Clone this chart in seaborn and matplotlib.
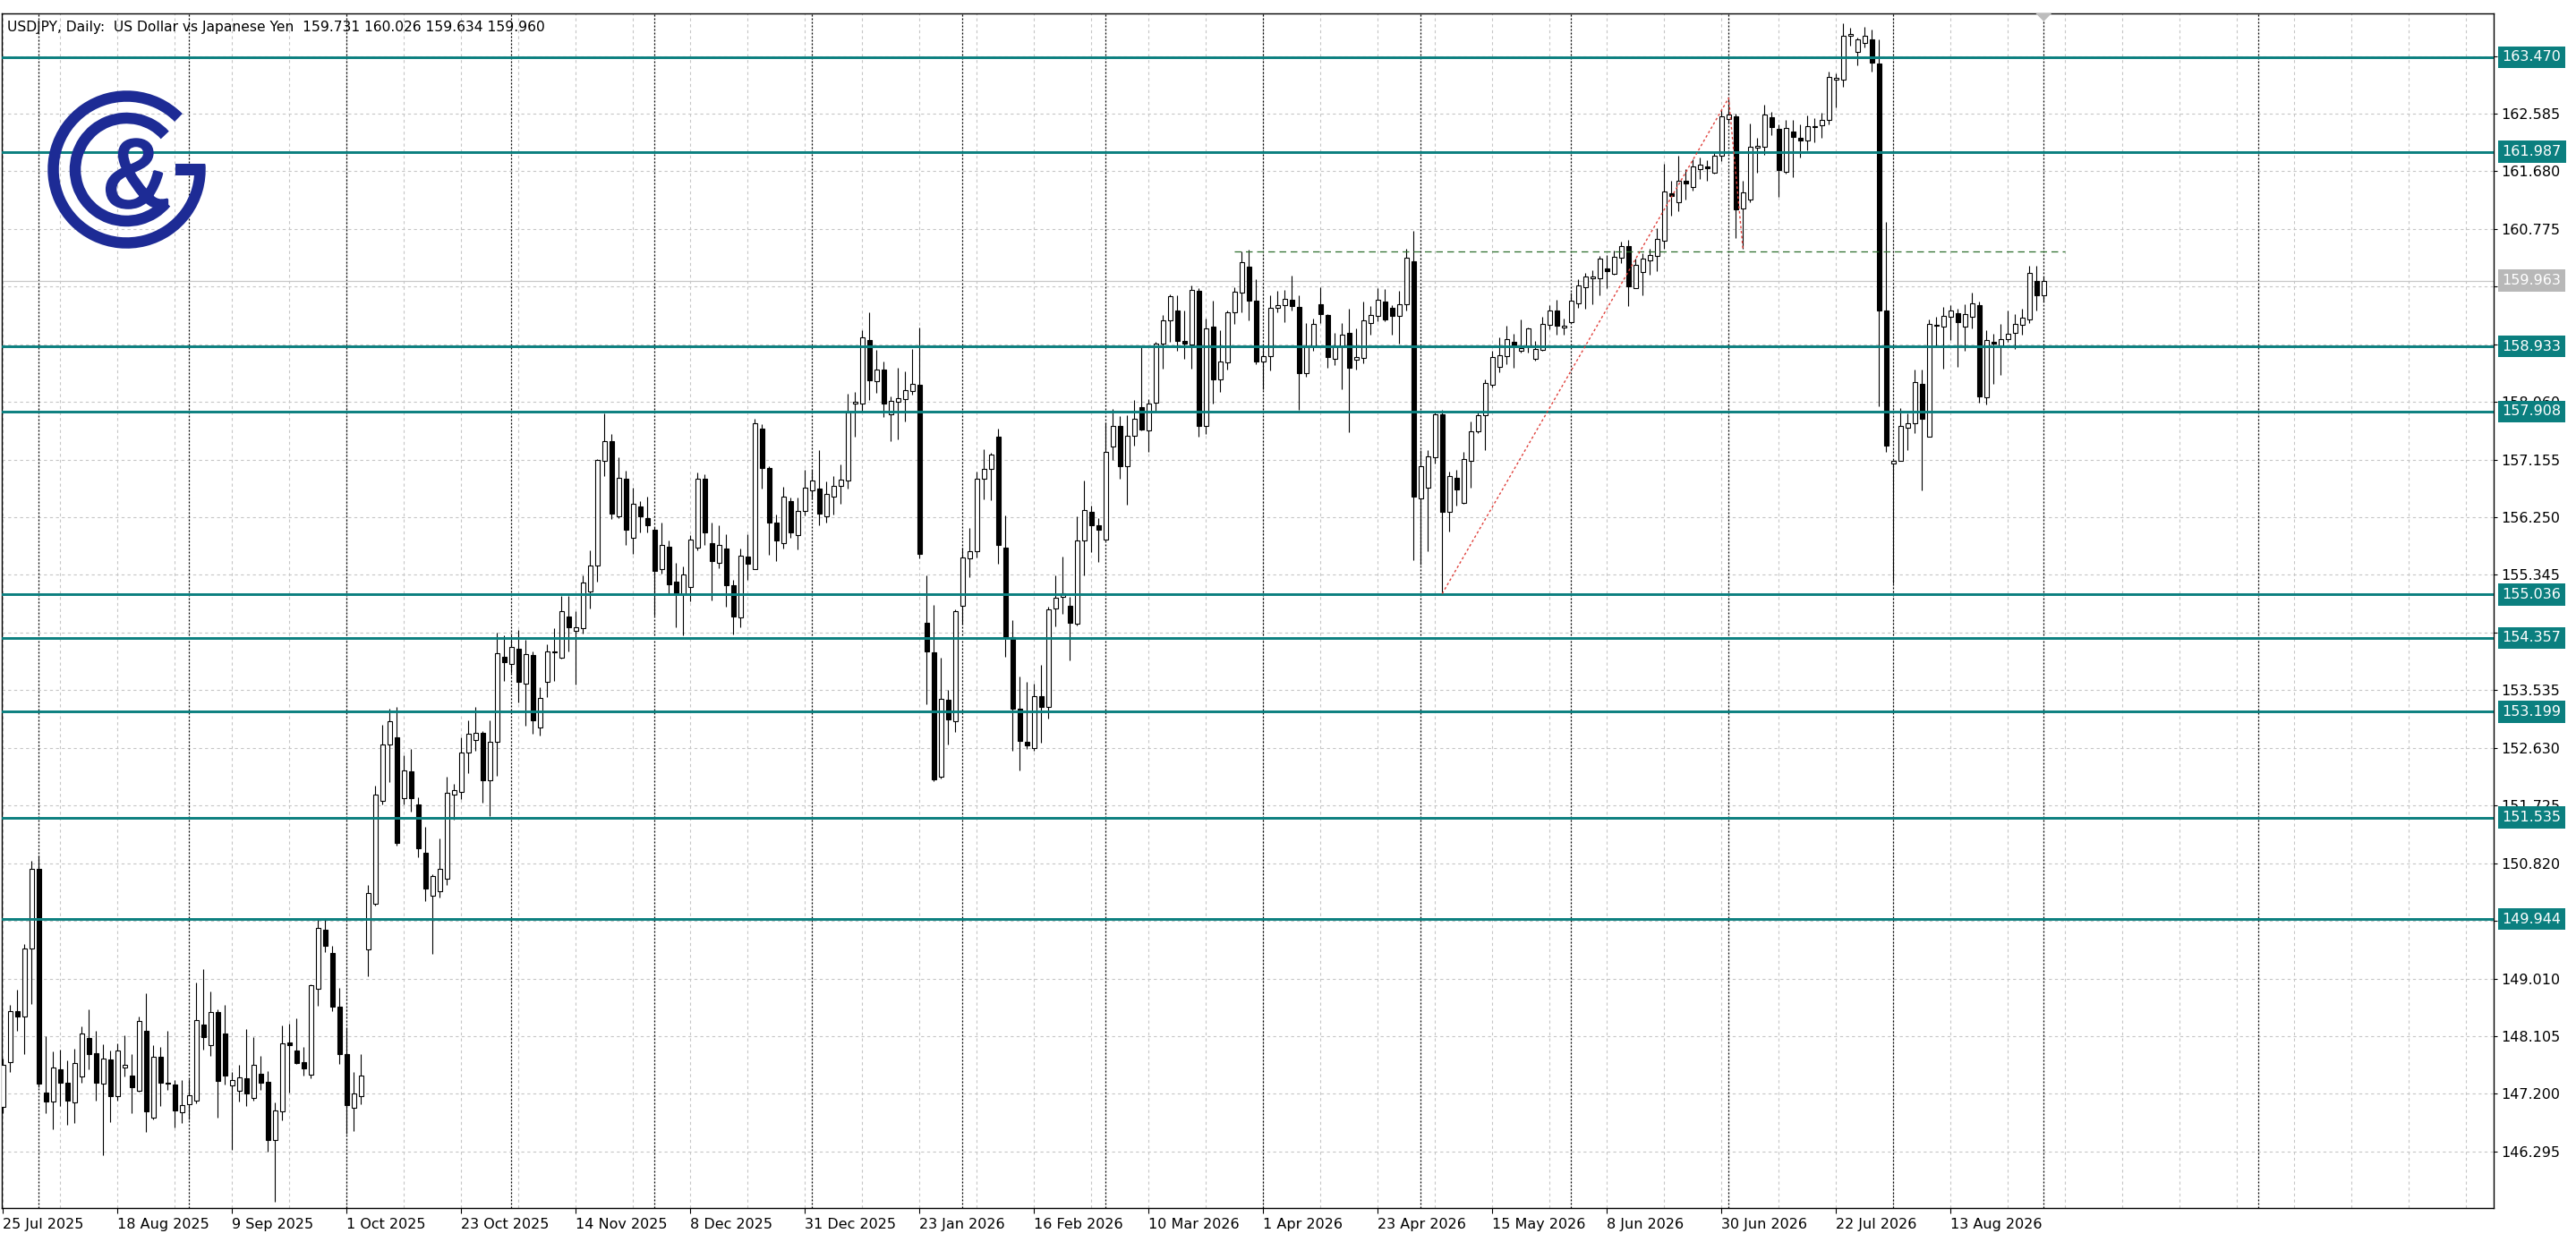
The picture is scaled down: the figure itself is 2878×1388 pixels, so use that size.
import numpy as np
import pandas as pd
import matplotlib
matplotlib.use("Agg")
import matplotlib.pyplot as plt
import seaborn as sns
from matplotlib.patches import Rectangle, Arc, Polygon
from matplotlib.transforms import blended_transform_factory
import matplotlib.patheffects as pe

# ---------------- data ----------------
symbol_title = "USDJPY, Daily:  US Dollar vs Japanese Yen"
first_date = "2025-07-25"
holidays = ["2025-12-25", "2026-01-01"]

opens = [
    147.00, 147.70, 148.50, 148.41, 149.48, 150.73, 147.22, 147.08, 147.58, 147.37,
    147.06, 147.47, 148.08, 147.84, 147.36, 147.74, 147.16, 147.61, 147.49, 147.25,
    148.19, 146.83, 147.78, 147.37, 147.35, 146.91, 147.04, 147.09, 148.29, 147.97,
    148.48, 148.15, 147.33, 147.25, 147.44, 147.13, 147.51, 147.39, 146.48, 146.92,
    148.00, 147.88, 147.70, 147.50, 148.85, 149.77, 149.41, 148.57, 147.83, 146.98,
    147.17, 149.46, 150.19, 151.80, 152.68, 152.79, 151.84, 152.26, 151.74, 150.98,
    150.31, 150.38, 150.58, 151.89, 151.94, 152.55, 152.75, 152.87, 152.12, 152.72,
    154.06, 153.95, 154.19, 153.64, 154.09, 152.95, 153.66, 154.13, 154.05, 154.69,
    154.47, 154.51, 155.08, 155.49, 157.14, 157.45, 156.27, 156.86, 155.93, 156.42,
    156.24, 156.05, 155.43, 155.79, 155.24, 155.04, 155.16, 155.77, 156.85, 155.85,
    155.53, 155.76, 155.19, 154.68, 155.63, 155.44, 157.64, 157.03, 156.16, 155.85,
    156.50, 155.97, 156.35, 156.67, 156.70, 156.27, 156.58, 156.74, 156.82, 158.04,
    158.04, 159.03, 158.38, 158.57, 157.87, 158.06, 158.10, 158.23, 158.33, 154.60,
    154.13, 152.18, 153.39, 153.05, 154.86, 155.61, 155.72, 156.86, 157.01, 157.51,
    155.77, 154.37, 153.24, 152.72, 152.63, 153.44, 153.27, 154.82, 155.00, 154.86,
    154.58, 155.88, 156.34, 156.13, 155.90, 157.36, 157.69, 157.05, 157.53, 157.98,
    157.62, 158.05, 158.97, 159.34, 159.50, 159.02, 158.96, 159.80, 157.69, 159.24,
    158.42, 158.68, 159.46, 159.78, 160.18, 159.65, 158.70, 158.78, 159.54, 159.58,
    159.66, 159.55, 158.51, 158.94, 159.59, 159.43, 158.73, 158.93, 159.14, 158.72,
    158.75, 159.30, 159.41, 159.63, 159.54, 159.41, 159.60, 160.27, 156.54, 156.71,
    157.19, 157.86, 156.33, 156.87, 156.47, 157.14, 157.60, 157.85, 158.33, 158.61,
    158.78, 159.01, 158.87, 158.93, 158.74, 158.88, 159.27, 159.49, 159.23, 159.31,
    159.61, 159.86, 160.00, 160.00, 160.16, 160.07, 160.33, 160.51, 159.85, 160.10,
    160.28, 160.35, 160.59, 161.34, 161.19, 161.53, 161.44, 161.71, 161.76, 161.66,
    161.92, 162.50, 162.54, 161.09, 161.24, 162.05, 162.07, 162.53, 162.35, 161.67,
    162.30, 162.21, 162.16, 162.38, 162.40, 162.48, 163.12, 163.12, 163.81, 163.55,
    163.70, 163.75, 163.37, 159.50, 157.10, 157.14, 157.66, 157.72, 158.34, 157.52,
    159.25, 159.24, 159.39, 159.45, 159.24, 159.39, 159.58, 158.13, 159.00, 158.95,
    159.04, 159.14, 159.27, 159.35, 159.96, 159.731,
]
highs = [
    147.75, 148.59, 148.83, 149.55, 150.86, 150.94, 148.11, 147.86, 147.89, 147.73,
    147.91, 148.26, 148.53, 148.19, 147.98, 147.88, 147.99, 148.12, 147.83, 148.41,
    148.78, 147.96, 147.93, 148.19, 147.42, 147.42, 147.43, 148.95, 149.16, 148.80,
    148.53, 148.59, 147.54, 147.65, 148.22, 148.09, 147.80, 147.56, 147.07, 148.28,
    148.30, 148.39, 147.94, 148.92, 149.94, 149.94, 149.53, 148.86, 148.23, 147.54,
    147.83, 150.48, 152.04, 152.99, 153.24, 153.28, 152.51, 152.61, 151.86, 151.39,
    150.64, 151.21, 152.18, 152.06, 152.79, 153.06, 153.27, 152.90, 153.06, 154.44,
    154.40, 154.40, 154.48, 154.33, 154.14, 153.58, 154.25, 154.51, 155.02, 155.02,
    154.78, 155.34, 155.73, 157.17, 157.88, 157.55, 157.19, 156.98, 156.72, 156.50,
    156.57, 156.09, 156.16, 155.89, 155.53, 155.48, 155.97, 156.95, 156.93, 156.16,
    156.13, 155.98, 155.27, 155.76, 155.98, 157.79, 157.71, 157.05, 156.29, 156.73,
    156.56, 156.56, 156.99, 156.99, 157.30, 156.81, 156.89, 157.08, 158.19, 158.22,
    159.18, 159.46, 158.88, 158.70, 158.15, 158.59, 158.54, 158.89, 159.23, 155.34,
    154.88, 154.05, 153.54, 154.80, 155.78, 156.08, 156.97, 157.32, 157.26, 157.64,
    156.28, 154.64, 153.75, 153.66, 153.64, 153.93, 154.85, 155.34, 155.63, 155.00,
    156.27, 156.82, 156.43, 156.23, 157.74, 157.95, 157.84, 157.85, 158.09, 158.92,
    158.11, 159.00, 159.43, 159.75, 159.74, 159.50, 159.89, 159.85, 159.37, 159.65,
    159.19, 159.49, 159.86, 160.42, 160.45, 159.98, 158.95, 159.73, 159.80, 159.82,
    160.04, 159.73, 159.30, 159.37, 159.86, 159.44, 159.15, 159.30, 159.52, 159.21,
    159.63, 159.56, 159.84, 159.83, 159.58, 159.80, 160.47, 160.74, 157.30, 157.31,
    157.90, 157.94, 156.96, 157.00, 157.28, 157.75, 157.89, 158.41, 158.86, 159.07,
    159.25, 159.13, 159.36, 159.23, 159.02, 159.39, 159.58, 159.66, 159.37, 159.77,
    159.99, 160.08, 160.13, 160.35, 160.37, 160.44, 160.58, 160.61, 160.31, 160.39,
    160.47, 160.79, 161.80, 161.53, 161.92, 161.72, 161.87, 161.89, 161.85, 161.98,
    162.65, 162.83, 162.59, 161.53, 162.43, 162.21, 162.72, 162.61, 162.42, 162.48,
    162.48, 162.42, 162.55, 162.51, 162.60, 163.24, 163.21, 164.00, 163.94, 163.78,
    163.95, 163.90, 163.75, 160.88, 157.15, 157.96, 157.88, 158.57, 158.57, 159.35,
    159.39, 159.55, 159.58, 159.53, 159.59, 159.78, 159.64, 159.18, 159.13, 159.29,
    159.49, 159.44, 159.52, 160.20, 160.20, 160.026,
]
lows = [
    146.90, 147.54, 148.19, 147.82, 148.61, 147.30, 146.89, 146.64, 147.01, 146.71,
    146.74, 147.37, 147.58, 147.10, 146.23, 146.76, 147.09, 147.47, 146.89, 147.23,
    146.60, 146.80, 147.01, 147.26, 146.67, 146.74, 146.80, 147.05, 147.90, 147.80,
    146.83, 147.35, 146.32, 147.08, 147.01, 147.10, 147.26, 146.29, 145.50, 146.79,
    147.22, 147.67, 147.48, 147.45, 148.58, 149.42, 148.50, 147.67, 146.58, 146.62,
    147.04, 149.05, 150.15, 151.74, 152.10, 151.10, 151.74, 151.63, 150.92, 150.22,
    149.40, 150.28, 150.48, 151.51, 151.82, 152.24, 152.59, 151.77, 151.56, 152.19,
    153.68, 153.80, 153.35, 152.98, 152.85, 152.83, 153.43, 153.68, 154.03, 154.14,
    153.62, 154.43, 154.82, 155.24, 156.90, 156.22, 156.24, 155.82, 155.67, 156.01,
    156.01, 154.70, 155.37, 155.06, 154.52, 154.39, 154.93, 155.73, 155.82, 154.95,
    155.45, 154.84, 154.41, 154.52, 155.27, 155.43, 156.70, 155.66, 155.56, 155.76,
    155.93, 155.75, 156.28, 156.53, 156.13, 156.17, 156.29, 156.46, 156.70, 157.52,
    157.91, 158.09, 158.20, 157.83, 157.44, 157.47, 157.76, 158.18, 155.61, 153.31,
    152.11, 152.15, 152.69, 152.88, 154.57, 155.31, 155.62, 156.53, 156.52, 155.52,
    154.06, 152.58, 152.28, 152.62, 152.58, 152.71, 153.09, 154.54, 154.73, 154.01,
    154.55, 155.34, 155.70, 155.55, 155.88, 157.15, 156.85, 156.45, 157.37, 157.62,
    157.28, 157.90, 158.58, 159.01, 158.86, 158.73, 158.58, 157.52, 157.56, 158.04,
    158.22, 158.57, 159.28, 159.46, 159.34, 158.65, 158.26, 158.55, 159.46, 159.31,
    159.49, 157.93, 158.46, 158.86, 159.30, 158.60, 158.64, 158.26, 157.59, 158.57,
    158.66, 159.12, 159.32, 159.32, 159.11, 158.97, 159.50, 155.57, 155.51, 155.72,
    157.10, 155.05, 156.03, 156.44, 156.46, 156.72, 157.57, 157.30, 158.29, 158.53,
    158.65, 158.60, 158.84, 158.84, 158.71, 158.86, 159.20, 159.11, 159.11, 159.30,
    159.54, 159.53, 159.59, 159.73, 159.84, 160.05, 160.24, 159.56, 159.84, 159.73,
    160.06, 160.12, 160.47, 160.99, 161.06, 161.24, 161.38, 161.56, 161.53, 161.65,
    161.84, 162.43, 160.63, 160.46, 161.20, 161.66, 161.94, 162.25, 161.28, 161.65,
    161.59, 161.90, 162.01, 162.13, 162.21, 162.42, 162.68, 163.00, 163.65, 163.34,
    163.63, 163.24, 157.99, 157.27, 155.21, 157.13, 157.30, 157.57, 156.67, 157.51,
    158.94, 158.58, 159.03, 158.61, 158.86, 159.22, 158.05, 158.02, 158.35, 158.49,
    159.01, 158.89, 159.12, 159.30, 159.49, 159.634,
]
closes = [
    147.65, 148.50, 148.41, 149.48, 150.73, 147.36, 147.08, 147.62, 147.37, 147.10,
    147.68, 148.15, 147.83, 147.37, 147.76, 147.16, 147.88, 147.65, 147.30, 148.35,
    146.92, 147.78, 147.37, 147.36, 146.94, 147.03, 147.18, 148.36, 148.09, 148.49,
    147.40, 147.48, 147.42, 147.46, 147.20, 147.65, 147.37, 146.48, 146.94, 147.99,
    147.96, 147.69, 147.60, 148.90, 149.80, 149.52, 148.57, 147.82, 147.02, 147.21,
    147.48, 150.35, 151.90, 152.68, 153.05, 151.14, 152.27, 151.84, 151.05, 150.42,
    150.62, 150.73, 151.93, 151.96, 152.55, 152.85, 152.87, 152.12, 152.72, 154.11,
    153.97, 154.21, 153.66, 154.10, 153.06, 153.42, 154.14, 154.15, 154.77, 154.53,
    154.52, 155.22, 155.49, 157.15, 157.45, 156.30, 156.87, 156.05, 156.46, 156.27,
    156.12, 155.41, 155.81, 155.20, 155.06, 155.35, 155.90, 156.86, 156.01, 155.56,
    155.82, 155.18, 154.69, 155.65, 155.52, 157.72, 157.03, 156.17, 155.89, 156.58,
    156.01, 156.35, 156.71, 156.83, 156.31, 156.61, 156.74, 156.84, 157.89, 158.06,
    159.08, 158.40, 158.57, 158.04, 158.07, 158.12, 158.25, 158.35, 155.68, 154.14,
    152.14, 153.40, 153.07, 154.77, 155.62, 155.72, 156.86, 157.01, 157.23, 155.82,
    154.37, 153.25, 152.74, 152.67, 153.44, 153.27, 154.81, 154.99, 155.06, 154.60,
    155.88, 156.36, 156.13, 156.05, 157.28, 157.69, 157.05, 157.53, 157.79, 157.63,
    158.04, 158.97, 159.34, 159.72, 159.02, 158.97, 159.82, 157.69, 159.22, 158.42,
    158.69, 159.46, 159.79, 160.26, 159.65, 158.70, 158.78, 159.54, 159.58, 159.68,
    159.56, 158.51, 158.93, 159.28, 159.44, 158.76, 158.93, 159.11, 158.60, 158.76,
    159.34, 159.43, 159.66, 159.35, 159.41, 159.60, 160.32, 156.57, 157.05, 157.21,
    157.87, 156.34, 156.89, 156.69, 157.16, 157.60, 157.85, 158.36, 158.77, 158.79,
    159.05, 158.94, 158.91, 159.21, 158.89, 159.29, 159.49, 159.25, 159.26, 159.65,
    159.89, 160.03, 160.03, 160.31, 160.12, 160.34, 160.51, 159.87, 160.21, 160.31,
    160.36, 160.62, 161.37, 161.29, 161.53, 161.49, 161.76, 161.78, 161.73, 161.93,
    162.54, 162.57, 161.08, 161.35, 162.07, 162.08, 162.57, 162.37, 161.70, 162.36,
    162.22, 162.17, 162.39, 162.39, 162.48, 163.16, 163.14, 163.81, 163.84, 163.75,
    163.81, 163.38, 159.50, 157.38, 157.14, 157.68, 157.73, 158.37, 157.79, 159.29,
    159.27, 159.41, 159.49, 159.31, 159.44, 159.61, 158.15, 159.03, 158.97, 159.04,
    159.13, 159.29, 159.38, 160.08, 159.73, 159.960,
]

levels = [163.470, 161.987, 158.933, 157.908, 155.036, 154.357, 153.199, 151.535, 149.944]
bid_price = 159.963
green_level = 160.422
green_from, green_to = 172, 288
zigzag_bars = [201, 241, 243]
zigzag_use = ["low", "high", "low"]
price_tick_start, price_tick_step, price_tick_count = 146.295, 0.905, 20
date_label_step = 16
grid_step = 8

# ---------------- layout / style ----------------
W, H, DPI = 2878, 1388, 100
sns.set_theme(style="white")
plt.rcParams["font.family"] = ["DejaVu Sans"]
plt.rcParams["axes.linewidth"] = 1.0

TEAL = "#0b7f7f"
GRID = "#c6c6c6"
BLUE = "#1d2b95"
FS = 11.5

n = len(opens)
dates = pd.bdate_range(start=first_date, periods=n, freq="C", holidays=holidays)
df = pd.DataFrame({"date": dates, "open": opens, "high": highs,
                   "low": lows, "close": closes})
df["bar"] = np.arange(n)

fig = plt.figure(figsize=(W / DPI, H / DPI), dpi=DPI)
fig.patch.set_facecolor("white")
ax_l, ax_r, ax_t, ax_b = 2.3, 2786.0, 15.0, 1350.0
ax = fig.add_axes([ax_l / W, 1 - ax_b / H, (ax_r - ax_l) / W, (ax_b - ax_t) / H])
ax.set_facecolor("white")
px_per_bar = 8.0
x0 = -(3.3 - ax_l) / px_per_bar
x1 = x0 + (ax_r - ax_l) / px_per_bar
ax.set_xlim(x0, x1)
ax.set_ylim(145.408, 164.158)

# grid
price_ticks = [price_tick_start + k * price_tick_step for k in range(price_tick_count)]
for p in price_ticks:
    ax.axhline(p, color=GRID, lw=0.8, dashes=(3, 3), zorder=1)
for gx in range(0, int(x1) + 1, grid_step):
    ax.axvline(gx, color=GRID, lw=0.8, dashes=(3, 3), zorder=1)

# month separators (history: trading bars, future: calendar days)
seps = [i for i in range(1, n) if dates[i].month != dates[i - 1].month]
fut = pd.date_range(dates[-1] + pd.Timedelta(days=1), periods=int(x1 - n) + 5, freq="D")
for d in fut:
    off = (d - dates[-1]).days + (n - 1)
    if d.day == 1 and off < x1 - 3:
        seps.append(off)
for s in seps:
    ax.axvline(s, color="black", lw=0.9, dashes=(1.6, 1.6), zorder=1.5)

# bid line
ax.axhline(bid_price, color="#c8c8c8", lw=0.9, zorder=1.6)

# candles
up = df["close"] >= df["open"]
body_lo = np.minimum(df["open"], df["close"])
body_h = np.maximum(np.abs(df["close"] - df["open"]), 0.012)
ax.vlines(df["bar"], df["low"], df["high"], color="black", lw=0.8, zorder=3)
ax.bar(df["bar"][up], body_h[up], bottom=body_lo[up], width=0.62,
       color="white", edgecolor="black", linewidth=0.8, zorder=4)
ax.bar(df["bar"][~up], body_h[~up], bottom=body_lo[~up], width=0.62,
       color="black", edgecolor="black", linewidth=0.8, zorder=4)

# horizontal levels
for lv in levels:
    ax.axhline(lv, color=TEAL, lw=2.1, zorder=5)

# green dashed resistance
ax.hlines(green_level, green_from, green_to, color="#2c6e2c", lw=0.9,
          linestyles=(0, (6, 4)), zorder=5)

# red zigzag
zz = pd.DataFrame({"bar": zigzag_bars,
                   "price": [df.loc[b, k] for b, k in zip(zigzag_bars, zigzag_use)]})
sns.lineplot(data=zz, x="bar", y="price", ax=ax, color="#e0413c", lw=1.0,
             linestyle=(0, (2, 2)), sort=False, legend=False, zorder=6)
ax.set_xlabel("")
ax.set_ylabel("")

# axes / ticks
ax.yaxis.tick_right()
ax.set_yticks(price_ticks)
ax.set_yticklabels([f"{p:.3f}" for p in price_ticks])
ax.tick_params(axis="y", direction="out", length=3, width=0.8, pad=3,
               labelsize=FS, colors="black", right=True, left=False)
xt = list(range(0, n, date_label_step))
ax.set_xticks(xt)
ax.set_xticklabels([f"{dates[i].day} {dates[i]:%b %Y}" for i in xt])
plt.setp(ax.get_xticklabels(), ha="left")
ax.tick_params(axis="x", direction="out", length=4, width=0.8, pad=4,
               labelsize=FS, colors="black", bottom=True)
for sp in ax.spines.values():
    sp.set_visible(True)
    sp.set_color("black")
    sp.set_linewidth(1.0)
ax.grid(False)

# price boxes on the right axis
trans = blended_transform_factory(ax.transAxes, ax.transData)
axw = ax_r - ax_l
for lv in levels:
    ax.text(1.0 + 9.5 / axw, lv, f"{lv:.3f}", transform=trans, ha="left", va="center",
            fontsize=FS, color="white", clip_on=False, zorder=20,
            bbox=dict(boxstyle="square,pad=0.3", fc=TEAL, ec="none"))
ax.text(1.0 + 9.5 / axw, bid_price, f"{bid_price:.3f}", transform=trans, ha="left",
        va="center", fontsize=FS, color="white", clip_on=False, zorder=20,
        bbox=dict(boxstyle="square,pad=0.3", fc="#b8b8b8", ec="none"))

# chart shift marker
ytop = ax.get_ylim()[1]
tri_h = 9 / ((ax_b - ax_t) / (ax.get_ylim()[1] - ax.get_ylim()[0]))
ax.add_patch(Polygon([[n - 1 - 1.1, ytop], [n - 1 + 1.1, ytop], [n - 1, ytop - tri_h]],
                     closed=True, fc="#bdbdbd", ec="none", zorder=7, clip_on=False))

# title
last = df.iloc[-1]
title = f"{symbol_title}  {last['open']:.3f} {last['high']:.3f} {last['low']:.3f} {last['close']:.3f}"
fig.text(8 / W, 1 - 30 / H, title, fontsize=11.2, ha="left", va="center", color="black")

# logo
lx0, lx1, ly0, ly1 = 45, 240, 95, 290
lax = fig.add_axes([lx0 / W, 1 - ly1 / H, (lx1 - lx0) / W, (ly1 - ly0) / H], zorder=10)
lax.set_xlim(lx0, lx1)
lax.set_ylim(H - ly1, H - ly0)
lax.axis("off")
lax.patch.set_alpha(0)
cx, cy = 141.5, H - 189.5
lw_px = 12.5
lax.add_patch(Arc((cx, cy), 2 * 82, 2 * 82, theta1=45, theta2=364,
                  lw=lw_px * 0.72, color=BLUE, capstyle="butt"))
lax.add_patch(Arc((cx, cy), 2 * 57.5, 2 * 57.5, theta1=42, theta2=320,
                  lw=lw_px * 0.72, color=BLUE, capstyle="butt"))
lax.add_patch(Rectangle((196, cy - 6.5), 33.5, 13, fc=BLUE, ec="none"))
lax.text(152, H - 231, "&", fontsize=78, family=["Liberation Sans", "DejaVu Sans"],
         color=BLUE, ha="center", va="baseline",
         path_effects=[pe.withStroke(linewidth=2.5, foreground=BLUE)])

fig.savefig("out.png", dpi=DPI, facecolor="white")
